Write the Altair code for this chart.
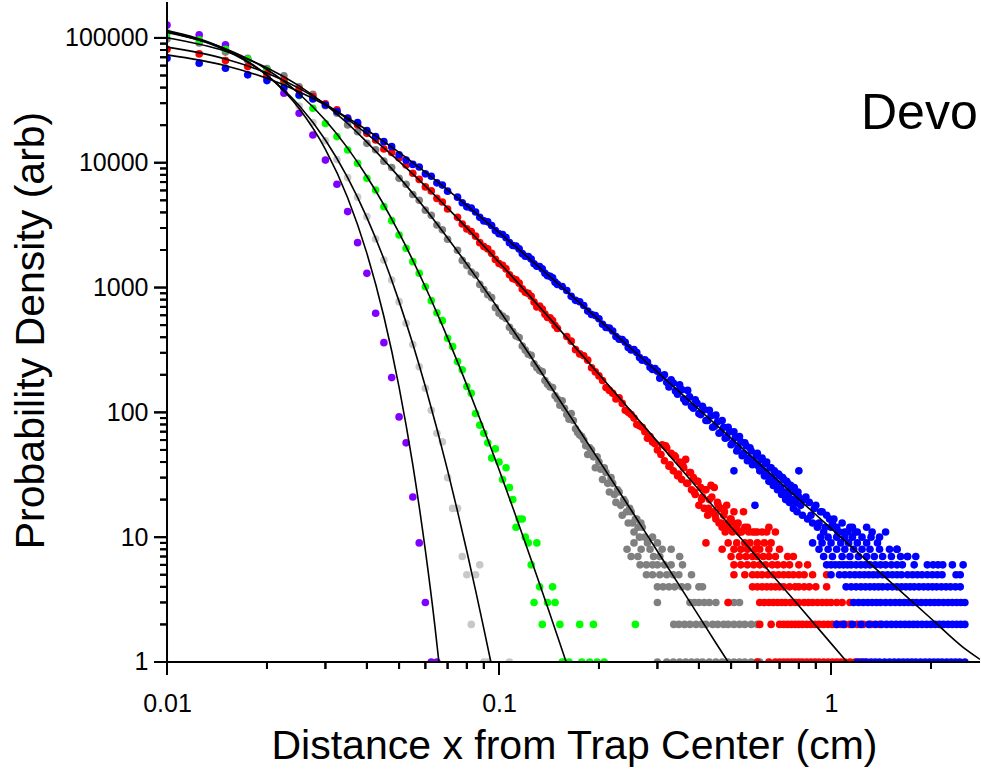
import math
import altair as alt
import pandas as pd

FONT = "Liberation Sans"

# ---------------- tick values ----------------
x_major_ticks = [0.01, 0.1, 1]
x_minor_ticks = [0.02, 0.03, 0.04, 0.05, 0.06, 0.07, 0.08, 0.09,
                 0.2, 0.3, 0.4, 0.5, 0.6, 0.7, 0.8, 0.9, 2]
y_major_ticks = [1, 10, 100, 1000, 10000, 100000]
y_minor_ticks = [2, 3, 4, 5, 6, 7, 8, 9,
                 20, 30, 40, 50, 60, 70, 80, 90,
                 200, 300, 400, 500, 600, 700, 800, 900,
                 2000, 3000, 4000, 5000, 6000, 7000, 8000, 9000,
                 20000, 30000, 40000, 50000, 60000, 70000, 80000, 90000]

x_frame = [0.01, 2.81]
y_frame = [1, 194000]

series_names = ["lightgray", "purple", "darkgray", "green", "red", "blue"]
series_colors = ["#c8c8c8", "#8000ff", "#808080", "#00ff00", "#ff0000", "#0000ff"]

purple_x = [0.01, 0.0125, 0.015, 0.0175, 0.02, 0.0225, 0.025, 0.0275, 0.03, 0.0325,
            0.035, 0.0375, 0.04, 0.0425, 0.045, 0.0475, 0.05, 0.0525, 0.055, 0.0575,
            0.06, 0.0625, 0.065]
purple_y = [127000, 106000, 88000, 66700, 48000, 36000, 24900, 16700, 10500, 6730,
            4060, 2290, 1300, 622, 362, 190, 92, 57, 21, 9,
            3, 1, 1]

lgray_x = [0.01, 0.0125, 0.015, 0.0175, 0.02, 0.0225, 0.025, 0.0275, 0.03, 0.0325,
           0.035, 0.0375, 0.04, 0.0425, 0.045, 0.0475, 0.05, 0.0525, 0.055, 0.0575,
           0.06, 0.0625, 0.065, 0.0675, 0.07, 0.0725, 0.075, 0.0775, 0.08, 0.0825,
           0.085, 0.0875, 0.09, 0.0925, 0.1075]
lgray_y = [112000, 100000, 84000, 66000, 50500, 38500, 28500, 21000, 15000, 10600,
           7600, 5300, 3700, 2450, 1664, 1150, 771, 517, 350, 232,
           156, 104, 68, 58, 30, 17, 17, 7, 5, 2,
           5, 6, 1, 1, 1]

green_x = [0.01, 0.0125, 0.015, 0.0175, 0.02, 0.0225, 0.025, 0.0275, 0.03, 0.0325,
           0.035, 0.0375, 0.04, 0.0425, 0.045, 0.0475, 0.05, 0.0525, 0.055, 0.0575,
           0.06, 0.0625, 0.065, 0.0675, 0.07, 0.0725, 0.075, 0.0775, 0.08, 0.0825,
           0.085, 0.0875, 0.09, 0.0925, 0.095, 0.0975, 0.1, 0.1025, 0.105, 0.1075,
           0.11, 0.1125, 0.115, 0.1175, 0.12, 0.1225, 0.125, 0.1275,
           0.13, 0.1325, 0.135, 0.14, 0.145, 0.1475, 0.1525, 0.155, 0.1575, 0.1625,
           0.1775, 0.175, 0.1875, 0.1925, 0.1975, 0.2075, 0.2575]
green_y = [109000, 96400, 81100, 67400, 55400, 44000, 34500, 27300, 20600, 16200,
           12660, 9910, 7510, 6050, 4450, 3435, 2637, 2065, 1613, 1302,
           1016, 785, 629, 543, 392, 336, 255, 219, 161, 142,
           98, 79, 68, 57, 43, 51, 40, 29, 36, 25,
           20, 12, 14, 14, 10, 9, 6, 3,
           9, 4, 2, 3, 4, 3, 2, 1, 1, 1,
           1, 2, 1, 2, 1, 1, 2]

dgray_x = [0.01, 0.0125, 0.015, 0.0175, 0.02, 0.0225, 0.025, 0.0275, 0.03, 0.0325,
           0.035, 0.0375, 0.04, 0.0425, 0.045, 0.0475, 0.05, 0.0525, 0.055, 0.0575,
           0.06, 0.0625, 0.065, 0.0675, 0.07,
           0.075, 0.08, 0.085, 0.09, 0.095, 0.1, 0.105, 0.11, 0.115, 0.12,
           0.125, 0.13, 0.135, 0.14, 0.145, 0.15,
           0.155, 0.16, 0.165, 0.17, 0.175, 0.18, 0.185, 0.19, 0.195, 0.2,
           0.205, 0.21, 0.215, 0.22, 0.225, 0.23, 0.235, 0.24, 0.245, 0.25,
           0.255, 0.26, 0.265, 0.27,
           0.0775, 0.0825, 0.0875, 0.0925, 0.0975, 0.1025, 0.1075, 0.1125, 0.1175, 0.1225,
           0.1275, 0.1325, 0.1375, 0.1425, 0.1475,
           0.1525, 0.1575, 0.1625, 0.1675, 0.1725, 0.1775, 0.1825, 0.1875, 0.1925, 0.1975,
           0.2025, 0.2075, 0.2125, 0.2175, 0.2225, 0.2275, 0.2325, 0.2375, 0.2425, 0.2475,
           0.2525, 0.2575, 0.2625, 0.2675]
dgray_y = [98000, 91000, 77000, 68500, 56800, 49800, 40600, 35300, 28600, 24900,
           20100, 17700, 14300, 12700, 10300, 9150, 7500, 6720, 5560, 5010,
           4170, 3790, 3170, 2900, 2440,
           1990, 1500, 1260, 965, 830, 622, 565, 445, 398, 315,
           286, 228, 212, 168, 158, 128,
           124, 96, 98, 74, 66, 60, 46, 50, 36, 40,
           29, 33, 23, 27, 19, 23, 15, 19, 13, 16,
           11, 14, 10, 12,
           1650, 1330, 1060, 875, 690, 590, 480, 410, 340, 292,
           245, 216, 180, 160, 136,
           114, 108, 88, 86, 69, 64, 54, 52, 44, 44,
           35, 36, 27, 30, 22, 24, 18, 20, 16, 17,
           13, 14, 12, 13]
dgray_tail = {
    10: [0.275, 0.29],
    9: [0.255, 0.28, 0.3],
    8: [0.243, 0.268, 0.285, 0.31, 0.33],
    7: [0.25, 0.262, 0.292, 0.305, 0.35],
    6: [0.266, 0.278, 0.29, 0.3, 0.315, 0.33, 0.357],
    5: [0.278, 0.29, 0.305, 0.32, 0.335, 0.348, 0.38],
    4: [0.3, 0.312, 0.325, 0.338, 0.355, 0.37, 0.4, 0.41],
    3: [0.3, 0.376, 0.388, 0.4, 0.415, 0.43, 0.45, 0.49, 0.51, 0.53],
    2: [0.336, 0.348, 0.362, 0.376, 0.392, 0.408, 0.42, 0.44, 0.456, 0.475,
        0.49, 0.51, 0.53, 0.55, 0.575, 0.6],
    1: [0.3, 0.32, 0.335, 0.35, 0.365, 0.38, 0.395, 0.41, 0.43, 0.45,
        0.47, 0.49, 0.51, 0.53, 0.55, 0.575, 0.6, 0.61],
}

red_x = [0.01, 0.0125, 0.015, 0.0175, 0.02, 0.0225, 0.025, 0.0275, 0.03, 0.0325,
         0.035, 0.0375, 0.04, 0.0425, 0.045, 0.0475, 0.05, 0.0525, 0.055, 0.0575,
         0.06, 0.0625, 0.065, 0.0675, 0.07,
         0.075, 0.08, 0.085, 0.09, 0.095, 0.1, 0.105, 0.11, 0.115, 0.12,
         0.125, 0.13, 0.135, 0.14, 0.145, 0.15,
         0.16, 0.17, 0.18, 0.19, 0.2, 0.21, 0.22, 0.23, 0.24, 0.25,
         0.26, 0.27, 0.28, 0.29, 0.3,
         0.0775, 0.0825, 0.0875, 0.0925, 0.0975, 0.1025, 0.1075, 0.1125, 0.1175, 0.1225,
         0.1275, 0.1325, 0.1375, 0.1425, 0.1475,
         0.165, 0.175, 0.185, 0.195, 0.205, 0.215, 0.225, 0.235, 0.245, 0.255,
         0.265, 0.275, 0.285, 0.295]
red_y = [81200, 74500, 65800, 58900, 51500, 46000, 38800, 33900, 29600, 26500,
         22800, 20100, 17200, 15200, 12900, 12100, 10900, 9600, 8240, 7350,
         6400, 5950, 5180, 4850, 4260,
         3650, 2950, 2580, 2128, 1880, 1560, 1410, 1180, 1085, 915,
         850, 700, 672, 575, 545, 470,
         405, 318, 284, 228, 196, 158, 142, 131, 104, 96,
         80, 76, 62, 58, 50,
         3230, 2810, 2290, 2040, 1680, 1510, 1265, 1155, 975, 898,
         765, 712, 612, 572, 496,
         372, 294, 262, 211, 180, 150, 128, 118, 100, 90,
         78, 70, 64, 56]
red_cloud_x = [0.31, 0.315, 0.32, 0.325, 0.33, 0.335, 0.34, 0.345, 0.35, 0.355,
               0.36, 0.365, 0.37, 0.375, 0.38, 0.385, 0.39, 0.395, 0.4, 0.405,
               0.41, 0.415, 0.42, 0.425, 0.43, 0.435, 0.44, 0.445, 0.45, 0.455,
               0.46, 0.465, 0.47, 0.475, 0.48, 0.485, 0.49, 0.5, 0.505, 0.51,
               0.52, 0.525, 0.53, 0.545, 0.56, 0.58, 0.6, 0.62, 0.65, 0.68,
               0.3075, 0.3175, 0.3275, 0.3375, 0.3475, 0.3575, 0.3675, 0.3775, 0.3875, 0.3975,
               0.4075, 0.4175, 0.4275, 0.4375, 0.4475, 0.4575, 0.4675, 0.4775, 0.4875, 0.4975,
               0.5075, 0.5175, 0.5275, 0.5375, 0.55, 0.565, 0.59, 0.64]
red_cloud_y = [55, 41, 52, 37, 47, 34, 44, 31, 40, 29,
               36, 42, 27, 33, 24, 30, 22, 28, 18, 25,
               21, 17, 24, 15, 20, 26, 16, 25, 14, 19,
               13, 17, 12, 15, 11, 18, 13, 14, 11, 16,
               12, 13, 11, 16, 12, 11, 11, 11, 12, 11,
               46, 54, 38, 45, 32, 38, 27, 33, 23, 28,
               20, 24, 17, 21, 15, 18, 13, 16, 12, 14,
               13, 12, 11, 11, 12, 11, 11, 11]
red_tail = {
    9: [0.42, 0.49, 0.52, 0.55, 0.57, 0.6, 0.63, 0.66],
    8: [0.47, 0.51, 0.535, 0.56, 0.59, 0.61, 0.65, 0.7],
    7: [0.5, 0.53, 0.555, 0.58, 0.6, 0.625, 0.65, 0.68, 0.74, 0.77],
    6: [0.51, 0.535, 0.56, 0.585, 0.61, 0.635, 0.665, 0.69, 0.72, 0.75, 0.8, 0.85],
    5: [0.51, 0.55, 0.58, 0.6, 0.62, 0.645, 0.67, 0.695, 0.72, 0.745, 0.77, 0.8,
        0.83, 0.88, 0.97],
    4: [0.58, 0.6, 0.62, 0.64, 0.66, 0.68, 0.7, 0.72, 0.75, 0.78, 0.8, 0.83,
        0.86, 0.9, 0.97],
    3: [0.49, 0.61, 0.63, 0.65, 0.67, 0.69, 0.71, 0.73, 0.755, 0.78, 0.8, 0.83,
        0.855, 0.88, 0.91, 0.94, 0.97, 1.0, 1.04, 1.08, 1.14],
    2: [0.61, 0.66, 0.7, 0.72, 0.74, 0.76, 0.78, 0.8, 0.82, 0.845, 0.87, 0.895,
        0.92, 0.95, 0.98, 1.01, 1.04, 1.07, 1.1, 1.14, 1.2, 1.25, 1.32, 1.4],
    1: [0.6, 0.65, 0.68, 0.7, 0.72, 0.74, 0.76, 0.78, 0.8, 0.82, 0.845, 0.87,
        0.895, 0.92, 0.95, 0.98, 1.01, 1.04, 1.07, 1.1, 1.14, 1.18, 1.22, 1.26],
}

blue_x = [0.01, 0.0125, 0.015, 0.0175, 0.02, 0.0225, 0.025, 0.0275, 0.03, 0.0325,
          0.035, 0.0375, 0.04, 0.0425, 0.045, 0.0475, 0.05, 0.0525, 0.055, 0.0575,
          0.06, 0.0625, 0.065, 0.0675, 0.07,
          0.075, 0.08, 0.085, 0.09, 0.095, 0.1, 0.105, 0.11, 0.115, 0.12,
          0.125, 0.13, 0.135, 0.14, 0.145, 0.15,
          0.16, 0.17, 0.18, 0.19, 0.2, 0.21, 0.22, 0.23, 0.24, 0.25,
          0.26, 0.27, 0.28, 0.29, 0.3,
          0.0775, 0.0825, 0.0875, 0.0925, 0.0975, 0.1025, 0.1075, 0.1125, 0.1175, 0.1225,
          0.1275, 0.1325, 0.1375, 0.1425, 0.1475,
          0.155, 0.165, 0.175, 0.185, 0.195, 0.205, 0.215, 0.225, 0.235, 0.245,
          0.255, 0.265, 0.275, 0.285, 0.295]
blue_y = [68800, 62600, 57200, 50600, 45500, 40100, 34900, 32400, 29000, 25700,
          22700, 20950, 18070, 16180, 14750, 13450, 11600, 10500, 9700, 9250,
          8150, 7800, 6900, 6620, 5920,
          5300, 4430, 4030, 3420, 3140, 2700, 2510, 2170, 2040, 1780,
          1690, 1480, 1410, 1245, 1195, 1060,
          948, 790, 718, 608, 562, 478, 449, 386, 365, 316,
          302, 262, 253, 221, 214,
          4780, 4330, 3650, 3360, 2860, 2660, 2290, 2150, 1870, 1770,
          1550, 1475, 1300, 1230, 1105,
          1020, 850, 770, 648, 596, 508, 474, 405, 384, 331,
          318, 275, 264, 230, 224]
blue_cloud_x = [0.31, 0.32, 0.33, 0.34, 0.35, 0.36, 0.37, 0.38, 0.39, 0.4,
                0.41, 0.42, 0.43, 0.44, 0.45, 0.46, 0.47, 0.48, 0.49, 0.5,
                0.51, 0.51,
                0.52, 0.53, 0.54, 0.55, 0.56, 0.57, 0.58, 0.59, 0.6, 0.61,
                0.62, 0.63, 0.64, 0.65, 0.66, 0.67, 0.68, 0.69, 0.7, 0.71,
                0.72, 0.73, 0.74, 0.75, 0.76, 0.77, 0.78, 0.79, 0.8,
                0.8, 0.82, 0.83, 0.85, 0.86, 0.88, 0.89, 0.91, 0.93, 0.95, 0.97,
                1.0, 1.02, 1.05, 1.08, 1.12, 1.16, 1.2, 1.28, 1.33, 1.4, 1.46, 1.58, 1.7,
                0.305, 0.315, 0.325, 0.335, 0.345, 0.355, 0.365, 0.375, 0.385, 0.395,
                0.405, 0.415, 0.425, 0.435, 0.445, 0.455, 0.465, 0.475, 0.485, 0.495,
                0.505, 0.515, 0.525, 0.535, 0.545, 0.555, 0.565, 0.575, 0.585, 0.595,
                0.605, 0.615, 0.625, 0.635, 0.645, 0.655, 0.665, 0.675, 0.685, 0.695,
                0.705, 0.715, 0.725, 0.735, 0.745, 0.755, 0.765, 0.775, 0.785, 0.795,
                0.81, 0.84, 0.87, 0.9, 0.92, 0.94, 0.96, 0.99, 1.01, 1.04,
                1.06, 1.1, 1.14, 1.18]
blue_cloud_y = [196, 174, 182, 148, 166, 128, 150, 112, 126, 98,
                112, 86, 104, 76, 95, 68, 86, 62, 76, 55,
                34, 70,
                49, 64, 45, 57, 41, 52, 38, 18, 47, 34,
                43, 31, 40, 28, 36, 26, 33, 24, 31, 22,
                29, 20, 27, 19, 25, 17, 23, 16, 34,
                21, 15, 20, 14, 19, 13, 17, 12, 16, 11, 15,
                12, 14, 11, 13, 11, 12, 11, 12, 11, 10, 11, 8, 7,
                188, 200, 160, 172, 140, 152, 121, 133, 108, 118,
                96, 105, 86, 94, 77, 84, 69, 76, 63, 70,
                57, 63, 52, 58, 47, 54, 43, 49, 40, 45,
                37, 42, 34, 39, 31, 36, 29, 34, 27, 32,
                25, 30, 23, 28, 22, 26, 20, 25, 19, 23,
                18, 21, 15, 18, 13, 16, 12, 14, 13, 12,
                11, 11, 12, 11]
blue_tail = {
    10: [0.93, 0.98, 1.04, 1.1, 1.16, 1.24, 1.32],
    9: [0.88, 0.94, 1.0, 1.07, 1.13, 1.2, 1.28, 1.38],
    8: [0.92, 0.98, 1.04, 1.1, 1.17, 1.24, 1.31, 1.4, 1.5, 1.58],
    7: [0.95, 1.01, 1.08, 1.14, 1.21, 1.28, 1.35, 1.43, 1.52, 1.62, 1.7, 1.8],
    6: [0.97, 1.0, 1.03, 1.06, 1.09, 1.12, 1.15, 1.19, 1.23, 1.27, 1.31, 1.36,
        1.41, 1.46, 1.52, 1.58, 1.64, 1.78, 1.95, 2.03, 2.1, 2.17, 2.32, 2.5],
    5: [1.0, 1.06, 1.1, 1.14, 1.18, 1.22, 1.26, 1.3, 1.34, 1.38, 1.43, 1.48,
        1.53, 1.58, 1.63, 1.7, 1.76, 1.82, 1.88, 1.95, 2.02, 2.09, 2.16, 2.38, 2.45],
    4: [1.11, 1.15, 1.19, 1.23, 1.27, 1.31, 1.35, 1.39, 1.43, 1.48, 1.53, 1.58,
        1.63, 1.68, 1.73, 1.78, 1.84, 1.9, 1.96, 2.02, 2.08, 2.15, 2.22, 2.29,
        2.37, 2.45],
    3: [1.17, 1.21, 1.25, 1.29, 1.33, 1.37, 1.41, 1.46, 1.51, 1.56, 1.61, 1.66,
        1.71, 1.76, 1.81, 1.87, 1.93, 1.99, 2.05, 2.11, 2.18, 2.25, 2.32, 2.39,
        2.46, 2.53],
    2: [1.04, 1.09, 1.16, 1.23, 1.3, 1.36, 1.42, 1.47, 1.52, 1.57, 1.62, 1.67,
        1.72, 1.77, 1.82, 1.88, 1.94, 2.0, 2.06, 2.12, 2.18, 2.25, 2.32, 2.39,
        2.46, 2.53],
    1: [1.2, 1.24, 1.28, 1.32, 1.36, 1.4, 1.45, 1.5, 1.55, 1.6, 1.65, 1.7,
        1.75, 1.8, 1.86, 1.92, 1.98, 2.04, 2.1, 2.16, 2.23, 2.3, 2.37, 2.44, 2.53],
}

purple_fit_x = [0.01, 0.015, 0.02, 0.025, 0.03, 0.035, 0.04, 0.045, 0.05, 0.055,
                0.06, 0.064, 0.0659]
purple_fit_y = [114400, 81250, 50300, 27150, 12780, 5246, 1878, 586, 159.5, 37.9,
                7.83, 2.01, 1.0]
lgray_fit_x = [0.01, 0.015, 0.02, 0.025, 0.03, 0.035, 0.04, 0.045, 0.05, 0.055,
               0.06, 0.065, 0.07, 0.075, 0.08, 0.085, 0.09, 0.0945]
lgray_fit_y = [112300, 79540, 50160, 28710, 15210, 7594, 3633, 1692, 775, 353.2,
               160.9, 73.9, 34.3, 16.1, 7.72, 3.75, 1.85, 1.0]
green_fit_x = [0.01, 0.015, 0.02, 0.025, 0.03, 0.035, 0.04, 0.05, 0.06, 0.07,
               0.08, 0.09, 0.1, 0.11, 0.12, 0.13, 0.14, 0.15, 0.1593]
green_fit_y = [110600, 82060, 55870, 35710, 21880, 13100, 7758, 2740, 1010, 395.6,
               165.3, 73.6, 34.8, 17.3, 9.0, 4.89, 2.76, 1.61, 1.0]
dgray_fit_x = [0.01, 0.015, 0.02, 0.025, 0.03, 0.04, 0.05, 0.06, 0.07, 0.08,
               0.1, 0.12, 0.15, 0.2, 0.25, 0.3, 0.35, 0.4, 0.45, 0.49]
dgray_fit_y = [100200, 78230, 57730, 41290, 29150, 14630, 7667, 4257, 2498, 1541,
               664, 326, 133.5, 41.3, 16.5, 7.72, 4.07, 2.33, 1.42, 1.0]
red_fit_x = [0.01, 0.015, 0.02, 0.025, 0.03, 0.04, 0.05, 0.07, 0.1, 0.15,
             0.2, 0.3, 0.4, 0.5, 0.6, 0.8, 1.0, 1.117]
red_fit_y = [84400, 67880, 52270, 39450, 29610, 17020, 10260, 4333, 1594, 481.7,
             201.7, 58.3, 24.0, 12.06, 6.86, 2.82, 1.41, 1.0]
blue_fit_x = [0.01, 0.015, 0.02, 0.025, 0.03, 0.04, 0.05, 0.07, 0.1, 0.15,
              0.2, 0.3, 0.5, 0.7, 1.0, 1.5, 2.0, 2.5, 2.81]
blue_fit_y = [73100, 59900, 47420, 37100, 29040, 18300, 12100, 6073, 2761, 1083,
              550.6, 210.1, 62.0, 27.7, 11.77, 4.45, 2.23, 1.31, 1.05]

annotation_text = ["Devo"]


def table(xs, ys):
    return pd.DataFrame({"x": xs, "y": ys})


def tail_table(levels):
    xs, ys = [], []
    for lev, vals in levels.items():
        for v in vals:
            xs.append(v)
            ys.append(lev)
    return pd.DataFrame({"x": xs, "y": ys})


point_tables = {
    "lightgray": table(lgray_x, lgray_y),
    "purple": table(purple_x, purple_y),
    "darkgray": pd.concat([table(dgray_x, dgray_y), tail_table(dgray_tail)]),
    "green": table(green_x, green_y),
    "red": pd.concat([table(red_x, red_y), table(red_cloud_x, red_cloud_y),
                      tail_table(red_tail)]),
    "blue": pd.concat([table(blue_x, blue_y), table(blue_cloud_x, blue_cloud_y),
                       tail_table(blue_tail)]),
}

fit_frames = []
for name, fx, fy in [("purple", purple_fit_x, purple_fit_y),
                     ("lightgray", lgray_fit_x, lgray_fit_y),
                     ("green", green_fit_x, green_fit_y),
                     ("darkgray", dgray_fit_x, dgray_fit_y),
                     ("red", red_fit_x, red_fit_y),
                     ("blue", blue_fit_x, blue_fit_y)]:
    f = pd.DataFrame({"x": fx, "y": fy})
    f["curve"] = name
    fit_frames.append(f)
fit_df = pd.concat(fit_frames, ignore_index=True)

PLOT_W, PLOT_H = 830, 678
X_DOMAIN = [0.008887, 2.81]
Y_DOMAIN = [0.7174, 194000]
x_scale = alt.Scale(type="log", domain=X_DOMAIN, nice=False)
y_scale = alt.Scale(type="log", domain=Y_DOMAIN, nice=False)

X_PPD = PLOT_W / (math.log10(X_DOMAIN[1]) - math.log10(X_DOMAIN[0]))
Y_PPD = PLOT_H / (math.log10(Y_DOMAIN[1]) - math.log10(Y_DOMAIN[0]))


def y_below(px):
    return y_frame[0] * 10 ** (-px / Y_PPD)


def x_left_of(px):
    return x_frame[0] * 10 ** (-px / X_PPD)


x_axis = alt.Axis(
    orient="bottom", values=x_major_ticks, format="~g", ticks=False, domain=False,
    grid=False, labelFont=FONT, labelFontSize=25, labelColor="black",
    labelPadding=11, labelFlush=False, labelOverlap=False,
    title="Distance x from Trap Center (cm)", titleFont=FONT, titleFontSize=41,
    titleFontWeight="normal", titleColor="black",
    titleX=424, titleY=78, titleAlign="center", titleBaseline="alphabetic",
)
y_axis = alt.Axis(
    orient="left", values=y_major_ticks, format="d", ticks=False, domain=False,
    grid=False, labelFont=FONT, labelFontSize=25, labelColor="black",
    labelPadding=2, labelFlush=False, labelOverlap=False,
    title="Probability Density (arb)", titleFont=FONT, titleFontSize=41,
    titleFontWeight="normal", titleColor="black",
    titleX=-107, titleY=328, titleAngle=-90, titleAlign="center",
    titleBaseline="alphabetic",
)

X = alt.X("x:Q", scale=x_scale, axis=x_axis)
Y = alt.Y("y:Q", scale=y_scale, axis=y_axis)

layers = []
for name, color in zip(series_names, series_colors):
    layers.append(
        alt.Chart(point_tables[name])
        .mark_circle(size=58, color=color, opacity=1)
        .encode(x=X, y=Y)
    )

layers.append(
    alt.Chart(fit_df)
    .mark_line(color="black", strokeWidth=1.6, interpolate="monotone")
    .encode(x=X, y=Y, detail="curve:N")
)

mask_df = pd.DataFrame({
    "x": [X_DOMAIN[0], X_DOMAIN[0]],
    "x2": [X_DOMAIN[1], x_frame[0]],
    "y": [Y_DOMAIN[0], Y_DOMAIN[0]],
    "y2": [y_frame[0], Y_DOMAIN[1]],
})
layers.append(
    alt.Chart(mask_df).mark_rect(color="white", opacity=1)
    .encode(x=X, x2="x2:Q", y=Y, y2="y2:Q")
)

axis_lines = pd.DataFrame({
    "x": [x_frame[0], x_frame[0]], "x2": [x_frame[1], x_frame[0]],
    "y": [y_frame[0], y_frame[0]], "y2": [y_frame[0], y_frame[1]],
})
layers.append(
    alt.Chart(axis_lines).mark_rule(color="black", strokeWidth=2)
    .encode(x=X, x2="x2:Q", y=Y, y2="y2:Q")
)

# tick marks as thin filled rectangles (both ends given as scale positions)
tick_rows = []
for vals, length in [(x_major_ticks, 13), (x_minor_ticks, 7)]:
    for v in vals:
        tick_rows.append({"x": v * 10 ** (-1.0 / X_PPD), "x2": v * 10 ** (1.0 / X_PPD),
                          "y": y_below(length), "y2": y_frame[0]})
for vals, length in [(y_major_ticks, 13), (y_minor_ticks, 7)]:
    for v in vals:
        tick_rows.append({"x": x_left_of(length), "x2": x_frame[0],
                          "y": v * 10 ** (-1.0 / Y_PPD), "y2": v * 10 ** (1.0 / Y_PPD)})
ticks_df = pd.DataFrame(tick_rows)
layers.append(
    alt.Chart(ticks_df).mark_rect(color="black", opacity=1)
    .encode(x=X, x2="x2:Q", y=Y, y2="y2:Q")
)

# the same ticks once more as stroked symbols, for robustness
x_tick_sym = pd.DataFrame({"x": x_major_ticks + x_minor_ticks,
                           "y": [y_frame[0]] * (len(x_major_ticks) + len(x_minor_ticks)),
                           "len": [13] * len(x_major_ticks) + [7] * len(x_minor_ticks)})
y_tick_sym = pd.DataFrame({"y": y_major_ticks + y_minor_ticks,
                           "x": [x_frame[0]] * (len(y_major_ticks) + len(y_minor_ticks)),
                           "len": [13] * len(y_major_ticks) + [7] * len(y_minor_ticks)})
for df, shape in [(x_tick_sym, "M0,0L0,2"), (y_tick_sym, "M0,0L-2,0")]:
    for length in [13, 7]:
        sub = df[df["len"] == length]
        layers.append(
            alt.Chart(sub)
            .mark_point(shape=shape, filled=False, color="black", strokeWidth=2,
                        size=length * length, opacity=1)
            .encode(x=X, y=Y)
        )

layers.append(
    alt.Chart(pd.DataFrame({"t": annotation_text}))
    .mark_text(font=FONT, fontSize=50, color="black", align="left",
               baseline="alphabetic")
    .encode(x=alt.value(711), y=alt.value(127), text="t:N")
)

chart = (
    alt.layer(*layers)
    .properties(width=PLOT_W, height=PLOT_H,
                autosize=alt.AutoSizeParams(type="none"),
                padding={"left": 150, "top": 2, "right": 0, "bottom": 90},
                background="white")
    .configure_view(strokeWidth=0)
)

chart.save("out.html", embed_options={"renderer": "svg", "actions": False})
